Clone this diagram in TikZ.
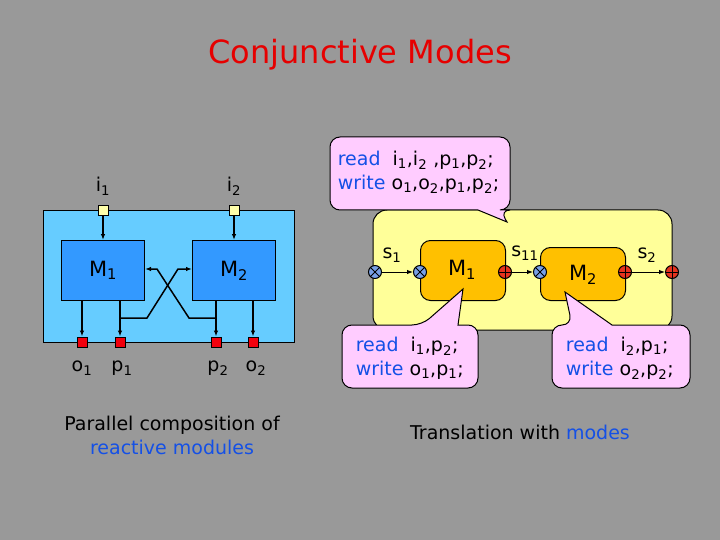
\documentclass[tikz,border=0pt]{standalone}
\usepackage{fontspec}
\setmainfont{DejaVu Sans}
\usetikzlibrary{arrows.meta}
\definecolor{bg}{RGB}{153,153,153}
\definecolor{lblue}{RGB}{102,204,255}
\definecolor{mblue}{RGB}{51,153,255}
\definecolor{lyel}{RGB}{255,255,153}
\definecolor{sq}{RGB}{255,255,170}
\definecolor{pinkc}{RGB}{255,204,255}
\definecolor{orng}{RGB}{255,192,0}
\definecolor{rdc}{RGB}{230,0,0}
\definecolor{tblue}{RGB}{20,80,230}
\definecolor{xblue}{RGB}{120,160,230}
\definecolor{pred}{RGB}{230,50,30}
\newcommand{\sbs}[1]{\textsubscript{#1}}
\begin{document}
\begin{tikzpicture}[x=1pt,y=-1pt,line width=1pt,
  txt/.style={font=\fontsize{19}{24}\selectfont},
  big/.style={font=\fontsize{21}{24}\selectfont},
  mod/.style={draw=black,fill=mblue,minimum width=83pt,minimum height=60pt,anchor=north west},
  port/.style={draw=black,minimum size=10pt,inner sep=0pt},
  wire/.style={line width=1.5pt,-{Latex[length=6pt]}},
  call/.style={draw=black,fill=pinkc,rounded corners=10pt},
  xc/.style={draw=black,fill=xblue,circle,minimum size=13pt,inner sep=0pt,
     path picture={\draw (path picture bounding box.north west)--(path picture bounding box.south east)
       (path picture bounding box.north east)--(path picture bounding box.south west);}},
  pc/.style={draw=black,fill=pred,circle,minimum size=13pt,inner sep=0pt,
     path picture={\draw (path picture bounding box.north)--(path picture bounding box.south)
       (path picture bounding box.east)--(path picture bounding box.west);}}]
\fill[bg] (0,0) rectangle (720,540);
\useasboundingbox (0,0) rectangle (720,540);
\node[rdc,font=\fontsize{32}{36}\selectfont] (title) at (360,55) {Conjunctive Modes};
% left: parallel composition
\node[draw=black,fill=lblue,minimum width=251pt,minimum height=132pt,anchor=north west] (outer) at (43,210) {};
\node[mod] (m1) at (61,240) {};
\node[big] at (m1.center) {M\sbs{1}};
\node[mod] (m2) at (192,240) {};
\node[big] at (m2.center) {M\sbs{2}};
\node[port,fill=sq] (i1) at (103,211) {};
\node[port,fill=sq] (i2) at (234,211) {};
\node[port,fill=red!80!purple] (o1) at (82,342) {};
\node[port,fill=red!80!purple] (p1) at (120,342) {};
\node[port,fill=red!80!purple] (p2) at (216,342) {};
\node[port,fill=red!80!purple] (o2) at (253,342) {};
\node[txt] at (103,186) {i\sbs{1}};
\node[txt] at (234,186) {i\sbs{2}};
\node[txt] at (82,368) {o\sbs{1}};
\node[txt] at (122,368) {p\sbs{1}};
\node[txt] at (218,368) {p\sbs{2}};
\node[txt] at (256,368) {o\sbs{2}};
\draw[wire] (i1) -- (i1|-m1.north);
\draw[wire] (i2) -- (i2|-m2.north);
\draw[wire] (o1|-m1.south) -- (o1);
\draw[wire] (p1|-m1.south) -- (p1);
\draw[wire] (p2|-m2.south) -- (p2);
\draw[wire] (o2|-m2.south) -- (o2);
\coordinate (a1) at (120,318);
\coordinate (a2) at (216,318);
\draw[wire] (a1) -- (147,318) -- (178,269) -- (m2.west|-0,269);
\draw[wire] (a2) -- (189,318) -- (157,269) -- (m1.east|-0,269);
\node[txt,align=center] (cap1) at (172,435) {Parallel composition of\\\textcolor{tblue}{reactive modules}};
% right: translation with modes
\draw[fill=lyel,rounded corners=14pt] (373,210) rectangle (672,330);
\node[draw=black,fill=orng,rounded corners=10pt,minimum width=85pt,minimum height=60pt,anchor=north west] (n1) at (420,240) {};
\node[big] at (462,270) {M\sbs{1}};
\node[draw=black,fill=orng,rounded corners=10pt,minimum width=85pt,minimum height=53pt,anchor=north west] (n2) at (540,247) {};
\node[big] at (583,275) {M\sbs{2}};
\node[xc] (c1) at (375,272) {};
\node[xc] (c2) at (420,272) {};
\node[pc] (c3) at (505,272) {};
\node[xc] (c4) at (540,272) {};
\node[pc] (c5) at (625,272) {};
\node[pc] (c6) at (672,272) {};
\draw[wire,line width=1pt] (c1) -- (c2);
\draw[wire,line width=1pt] (c3) -- (c4);
\draw[wire,line width=1pt] (c5) -- (c6);
\node[txt] at (392,255) {s\sbs{1}};
\node[txt] at (525,253) {s\sbs{11}};
\node[txt] at (647,255) {s\sbs{2}};
% callouts
\draw[call] (330,137) -- (510,137) -- (510,210) -- (500,210) [sharp corners]-- (507,222) -- (478,210) [rounded corners=10pt]-- (330,210) -- cycle;
\node[txt,anchor=west,align=left] at (334,172) {\textcolor{tblue}{read}\ \ i\sbs{1},i\sbs{2} ,p\sbs{1},p\sbs{2};\\\textcolor{tblue}{write} o\sbs{1},o\sbs{2},p\sbs{1},p\sbs{2};};
\draw[call] (342,325) -- (422,325) [sharp corners]-- (463,289) -- (458,325) [rounded corners=10pt]-- (478,325) -- (478,388) -- (342,388) -- cycle;
\node[txt,anchor=west,align=left] at (352,358) {\textcolor{tblue}{read}\ \ i\sbs{1},p\sbs{2};\\\textcolor{tblue}{write} o\sbs{1},p\sbs{1};};
\draw[call] (552,325) -- (572,325) [sharp corners]-- (565,292) -- (612,325) [rounded corners=10pt]-- (690,325) -- (690,388) -- (552,388) -- cycle;
\node[txt,anchor=west,align=left] at (562,358) {\textcolor{tblue}{read}\ \ i\sbs{2},p\sbs{1};\\\textcolor{tblue}{write} o\sbs{2},p\sbs{2};};
\node[txt] (cap2) at (520,432) {Translation with \textcolor{tblue}{modes}};
\end{tikzpicture}
\end{document}
